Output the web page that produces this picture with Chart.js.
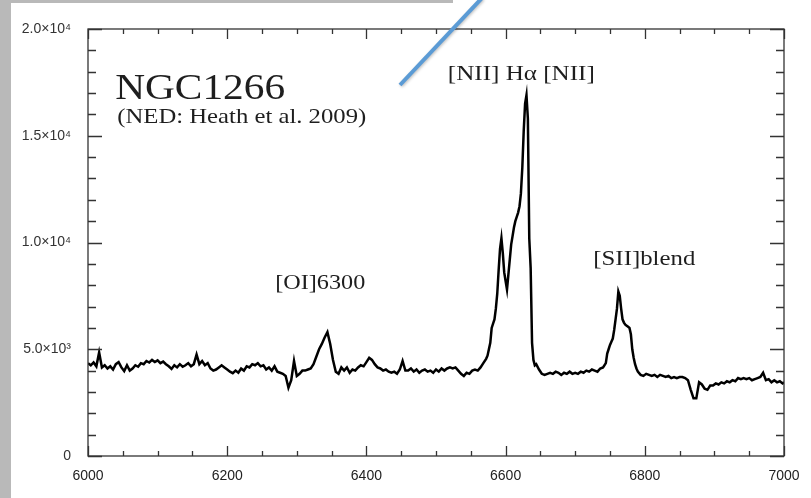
<!DOCTYPE html>
<html>
<head>
<meta charset="utf-8">
<title>NGC1266 spectrum</title>
<script src="https://cdn.jsdelivr.net/npm/chart.js@4/dist/chart.umd.min.js"></script>
<style>
  html, body { margin: 0; padding: 0; background: #fff; }
  #wrap { position: relative; width: 811px; height: 498px; overflow: hidden; }
  #spec { position: absolute; left: 0; top: 0; }
  .strip { position: absolute; background: #b9b9b9; }
</style>
</head>
<body>
<div id="wrap">
  <canvas id="spec" width="811" height="498"></canvas>
  <div class="strip" style="left:0;top:0;width:11px;height:498px"></div>
  <div class="strip" style="left:0;top:0;width:453px;height:3px"></div>
</div>
<script>
// wavelength (Angstrom) and flux, sampled along the trace
const wavelength = [
  6000,6004,6008,6012,6016,6020,6024,6028,6032,6036,
  6040,6044,6048,6052,6056,6060,6064,6068,6072,6076,
  6080,6084,6088,6092,6096,6100,6104,6108,6112,6116,
  6120,6124,6128,6132,6136,6140,6144,6148,6152,6156,
  6160,6164,6168,6172,6176,6180,6184,6188,6192,6196,
  6200,6204,6208,6212,6216,6220,6224,6228,6232,6236,
  6240,6244,6248,6252,6256,6260,6264,6268,6272,6276,
  6280,6284,6288,6292,6296,6300,6304,6308,6312,6316,
  6320,6324,6328,6332,6336,6340,6344,6348,6352,6356,
  6360,6364,6368,6372,6376,6380,6384,6388,6392,6396,
  6400,6404,6408,6412,6416,6420,6424,6428,6432,6436,
  6440,6444,6448,6452,6456,6460,6464,6468,6472,6476,
  6480,6484,6488,6492,6496,6500,6504,6508,6512,6516,
  6520,6524,6528,6532,6536,6540,6544,6548,6552,6556,
  6560,6564,6568,6572,6574,6576,6578,6580,6582,6584,
  6586,6588,6590,6592,6594,6596,6598,6600,6602,6604,
  6606,6608,6610,6612,6614,6616,6618,6620,6622,6624,
  6626,6628,6630,6632,6634,6636,6638,6640,6642,6644,
  6648,6652,6656,6660,6664,6668,6672,6676,6680,6684,
  6688,6692,6696,6700,6704,6708,6712,6716,6720,6724,
  6728,6732,6736,6740,6744,6746,6748,6750,6752,6754,
  6756,6758,6760,6762,6764,6766,6768,6770,6772,6774,
  6776,6778,6780,6782,6784,6786,6788,6790,6794,6798,
  6802,6806,6810,6814,6818,6822,6826,6830,6834,6838,
  6842,6846,6850,6854,6858,6862,6866,6870,6874,6878,
  6882,6886,6890,6894,6898,6902,6906,6910,6914,6918,
  6922,6926,6930,6934,6938,6942,6946,6950,6954,6958,
  6962,6966,6970,6974,6978,6982,6986,6990,6994,6998,
  7000
];
const flux = [
  4350,4250,4380,4200,4850,4150,4250,4100,4200,4050,
  4300,4400,4150,3980,4250,4000,4100,4250,4180,4350,
  4300,4450,4380,4500,4400,4480,4350,4420,4300,4200,
  4080,4250,4150,4300,4180,4250,4350,4200,4300,4750,
  4300,4450,4250,4350,4100,4000,4050,4150,4250,4150,
  4050,3950,3880,4000,3900,4100,4000,4200,4150,4300,
  4250,4350,4200,4250,4050,4150,4000,4200,3950,3900,
  3850,3750,3200,3550,4450,3750,3850,4000,4000,4050,
  4100,4300,4650,5000,5250,5550,5800,5250,4500,3950,
  3850,4150,4000,4150,3900,4050,4000,4150,4250,4200,
  4400,4600,4500,4300,4150,4100,4000,4050,3950,3900,
  3950,3850,4050,4450,4000,4000,4100,3950,4050,3900,
  4000,4050,3950,4000,3900,4050,3950,4100,4000,4100,
  4150,4100,4150,4000,3850,3750,3900,3850,4000,4050,
  4000,4150,4350,4550,4700,5000,5300,6000,6200,6400,
  6900,7600,8700,9700,10200,9500,8600,8200,7800,8500,
  9200,9900,10300,10700,11000,11200,11400,11700,12300,13500,
  15200,16500,16900,15800,10200,8800,5300,4500,4250,4300,
  4050,3850,3800,3850,3900,3850,3950,3900,3800,3900,
  3850,3950,3850,3900,3850,3950,3900,4000,3950,4050,
  4000,3950,4100,4150,4350,4800,5000,5200,5350,5500,
  5900,6400,6900,7700,7500,6900,6400,6250,6150,6100,
  6050,6000,5700,5000,4600,4300,4100,3950,3800,3750,
  3850,3800,3750,3800,3700,3800,3750,3700,3750,3650,
  3700,3650,3700,3700,3650,3550,3100,2700,2700,3450,
  3350,3150,3100,3300,3300,3400,3350,3450,3400,3500,
  3450,3550,3500,3650,3600,3650,3600,3650,3550,3600,
  3650,3700,3900,3550,3600,3450,3550,3450,3500,3400,
  3450
];

// axis ranges and tick spacing
const xRange = [6000, 7000];
const yRange = [0, 20000];
const xMajor = 200, xMinor = 50;
const yMajor = 5000, yMinor = 1000;

// text drawn inside the frame: [text, wavelength, flux, font px, width px]
const notes = [
  ['NGC1266', 6039, 16720, 35, 170],
  ['(NED: Heath et al. 2009)', 6042, 15590, 21, 249],
  ['[NII] H\u03b1 [NII]', 6517, 17610, 22, 147],
  ['[OI]6300', 6269, 7820, 22, 90],
  ['[SII]blend', 6726, 8960, 22, 102]
];

const sup = { '3': '\u00b3', '4': '\u2074' };
function sciLabel(v) {
  if (v === 0) return '0';
  const e = Math.floor(Math.log10(v));
  return (v / Math.pow(10, e)).toFixed(1) + '\u00d710' + sup[e];
}

// box plus inward ticks on all four sides
const frameTicks = {
  id: 'frameTicks',
  afterDatasetsDraw(chart) {
    const { ctx, chartArea: a, scales: { x, y } } = chart;
    ctx.save();
    ctx.strokeStyle = '#333';
    ctx.lineWidth = 1.3;
    ctx.strokeRect(a.left, a.top, a.right - a.left, a.bottom - a.top);
    ctx.beginPath();
    for (let v = xRange[0]; v <= xRange[1]; v += xMinor) {
      const px = Math.round(x.getPixelForValue(v)) + 0.5;
      const len = v % xMajor === 0 ? 10 : 5;
      ctx.moveTo(px, a.bottom); ctx.lineTo(px, a.bottom - len);
      ctx.moveTo(px, a.top); ctx.lineTo(px, a.top + len);
    }
    for (let v = yRange[0]; v <= yRange[1]; v += yMinor) {
      const py = Math.round(y.getPixelForValue(v)) + 0.5;
      const len = v % yMajor === 0 ? 14 : 8;
      ctx.moveTo(a.left, py); ctx.lineTo(a.left + len, py);
      ctx.moveTo(a.right, py); ctx.lineTo(a.right - len, py);
    }
    ctx.stroke();
    ctx.restore();
  }
};

const labelsAndArrow = {
  id: 'labelsAndArrow',
  afterDraw(chart) {
    const { ctx, scales: { x, y } } = chart;
    ctx.save();
    ctx.fillStyle = '#1e1e1e';
    ctx.textBaseline = 'alphabetic';
    notes.forEach(([text, wl, f, size, width]) => {
      ctx.font = size + 'px "Liberation Serif", "Times New Roman", serif';
      const w = ctx.measureText(text).width;
      ctx.save();
      ctx.translate(x.getPixelForValue(wl), y.getPixelForValue(f));
      ctx.scale(width / w, 1);
      ctx.fillText(text, 0, 0);
      ctx.restore();
    });
    // pointer line coming in from the top
    ctx.strokeStyle = '#5b9bd5';
    ctx.lineWidth = 4;
    ctx.shadowColor = 'rgba(0,0,0,0.25)';
    ctx.shadowBlur = 3;
    ctx.shadowOffsetX = 1;
    ctx.shadowOffsetY = 1;
    ctx.beginPath();
    ctx.moveTo(482, -2);
    ctx.lineTo(400, 85);
    ctx.stroke();
    ctx.restore();
  }
};

new Chart(document.getElementById('spec'), {
  type: 'line',
  data: {
    datasets: [{
      data: wavelength.map((w, i) => ({ x: w, y: flux[i] })),
      borderColor: '#000',
      borderWidth: 2.5,
      borderJoinStyle: 'miter',
      tension: 0,
      pointRadius: 0,
      fill: false
    }]
  },
  options: {
    responsive: false,
    animation: false,
    devicePixelRatio: 1,
    layout: { padding: { left: 0, right: 27, top: 29, bottom: 0 } },
    plugins: { legend: { display: false }, tooltip: { enabled: false } },
    scales: {
      x: {
        type: 'linear',
        min: xRange[0], max: xRange[1],
        grid: { display: false },
        border: { display: false },
        afterFit(s) { s.height = 42; },
        ticks: {
          stepSize: xMajor,
          padding: 4,
          color: '#222',
          maxRotation: 0,
          font: { family: '"Liberation Sans", Arial, sans-serif', size: 14 },
          callback: v => String(v)
        }
      },
      y: {
        min: yRange[0], max: yRange[1],
        grid: { display: false },
        border: { display: false },
        afterFit(s) { s.width = 88; },
        ticks: {
          stepSize: yMajor,
          padding: 9,
          color: '#333',
          font: { family: '"Liberation Sans", Arial, sans-serif', size: 14 },
          callback: v => sciLabel(v)
        }
      }
    }
  },
  plugins: [frameTicks, labelsAndArrow]
});
</script>
</body>
</html>
